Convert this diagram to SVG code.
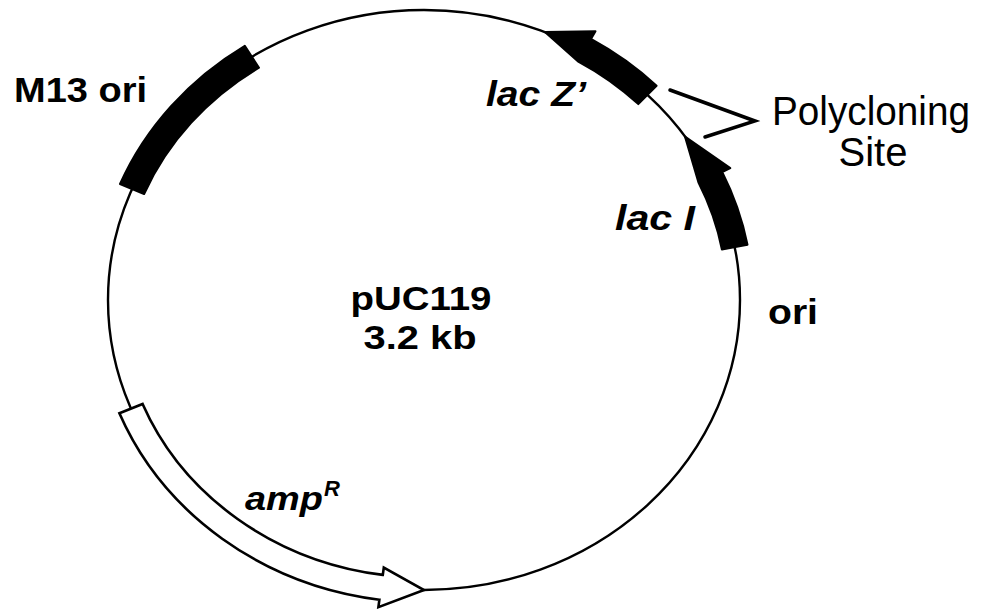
<svg xmlns="http://www.w3.org/2000/svg" width="983" height="609" viewBox="0 0 983 609">
  <style>
    .lbl { font-family: "Liberation Sans", Arial, Helvetica, sans-serif; font-weight: bold; fill: #000; }
    .it { font-style: italic; }
    .reg { font-weight: normal; }
    .gene { fill: #000; stroke: #000; stroke-width: 2; stroke-linejoin: round; }
    .open { fill: #fff; stroke: #000; stroke-width: 2.6; stroke-linejoin: miter; }
    .bb { fill: none; stroke: #000; stroke-width: 2.4; }
    .lead { fill: none; stroke: #000; stroke-width: 3.5; stroke-linecap: round; }
  </style>

  <rect width="983" height="609" fill="#fff"/>

  <!-- plasmid backbone -->
  <g id="backbone">
    <ellipse class="bb" cx="424" cy="300" rx="316" ry="290"/>
  </g>

  <!-- M13 origin block -->
  <g id="m13-ori">
    <path class="gene" d="M 120.0 184.0 A 329 303 0 0 1 244.8 45.9 L 259.0 67.7 A 303 277 0 0 0 144.1 194.0 Z"/>
    <text class="lbl" x="14" y="102" font-size="35" textLength="133" lengthAdjust="spacingAndGlyphs">M13 ori</text>
  </g>

  <!-- lacZ' gene arrow -->
  <g id="lacZ">
    <path class="gene" d="M 544.9 32.1 L 595.5 31.2 L 591.0 38.9 A 329 303 0 0 1 656.6 85.7 L 638.3 104.1 A 303 277 0 0 0 577.8 61.3 Z"/>
    <text class="lbl it" x="486" y="106" font-size="35" textLength="100" lengthAdjust="spacingAndGlyphs">lac Z’</text>
  </g>

  <!-- lacI gene arrow -->
  <g id="lacI">
    <path class="gene" d="M 685.0 136.6 L 730.3 168.1 L 722.2 172.0 A 329 303 0 0 1 747.5 244.8 L 721.9 249.5 A 303 277 0 0 0 698.6 182.9 Z"/>
    <text class="lbl it" x="615" y="230" font-size="35" textLength="80" lengthAdjust="spacingAndGlyphs">lac I</text>
  </g>

  <!-- replication origin -->
  <g id="ori">
    <text class="lbl" x="768" y="324" font-size="35" textLength="50" lengthAdjust="spacingAndGlyphs">ori</text>
  </g>

  <!-- ampicillin resistance gene arrow -->
  <g id="ampR">
    <path class="open" d="M 119.4 413.3 A 328.5 302.5 0 0 0 379.4 599.7 L 378.4 607.1 L 424 590 L 383.8 567.5 L 382.8 574.9 A 303.5 277.5 0 0 1 142.6 404.0 Z"/>
    <text class="lbl it" x="245" y="510" font-size="34" textLength="78" lengthAdjust="spacingAndGlyphs">amp</text>
    <text class="lbl it" x="324" y="496" font-size="22">R</text>
  </g>

  <!-- plasmid name and size -->
  <g id="title">
    <text class="lbl" x="421" y="310" font-size="34" text-anchor="middle" textLength="141" lengthAdjust="spacingAndGlyphs">pUC119</text>
    <text class="lbl" x="420" y="349" font-size="34" text-anchor="middle" textLength="113" lengthAdjust="spacingAndGlyphs">3.2 kb</text>
  </g>

  <!-- polycloning site label -->
  <g id="polycloning">
    <text class="lbl reg" x="871" y="125" font-size="40" text-anchor="middle" textLength="198" lengthAdjust="spacingAndGlyphs">Polycloning</text>
    <text class="lbl reg" x="873" y="166" font-size="40" text-anchor="middle">Site</text>
  </g>

  <!-- bracket pointing to the polycloning site -->
  <g id="connectors">
    <polyline class="lead" points="670,90 755,121 705,137"/>
  </g>
</svg>
